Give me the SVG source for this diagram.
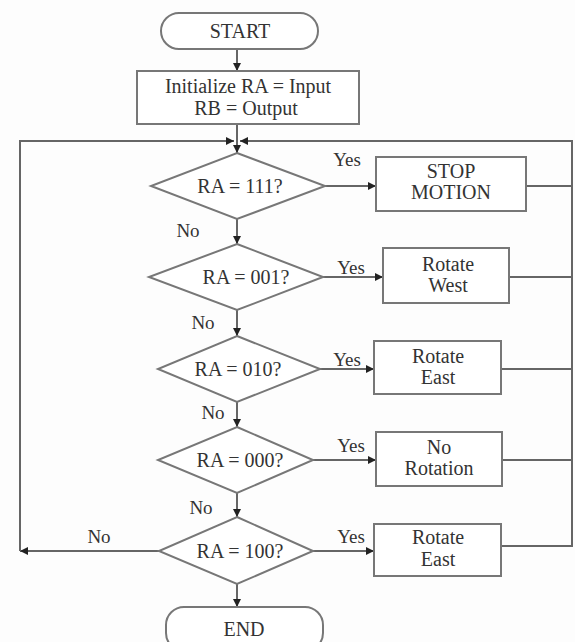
<svg xmlns="http://www.w3.org/2000/svg" width="575" height="642" viewBox="0 0 575 642">
<defs>
<marker id="ah" viewBox="0 0 10 10" refX="10" refY="5" markerWidth="8" markerHeight="8" markerUnits="userSpaceOnUse" orient="auto">
<path d="M0,0 L10,5 L0,10 z" fill="#222"/>
</marker>
</defs>
<style>
.shape{fill:#fff;stroke:#777;stroke-width:2}
.line{fill:none;stroke:#666;stroke-width:2}
.arr{marker-end:url(#ah)}
text{font-family:"Liberation Serif","Times New Roman",serif;font-size:20px;fill:#333;text-anchor:middle}
.lbl{font-size:19px}
</style>
<rect width="575" height="642" fill="#fdfdfd"/>
<g id="connectors">
<line class="line arr" x1="237" y1="49" x2="237" y2="71"/>
<line class="line arr" x1="237" y1="124" x2="237" y2="153"/>
<polyline class="line arr" points="159,551 20,551"/>
<polyline class="line arr" points="20,551 20,141 234,141"/>
<polyline class="line arr" points="526,186 572,186 572,141 240,141"/>
<line class="line" x1="509" y1="277" x2="572" y2="277"/>
<line class="line" x1="501" y1="369" x2="572" y2="369"/>
<line class="line" x1="502" y1="460" x2="572" y2="460"/>
<polyline class="line" points="501,546 572,546 572,186"/>
<line class="line arr" x1="325" y1="186" x2="376" y2="186"/>
<line class="line arr" x1="323" y1="277" x2="383" y2="277"/>
<line class="line arr" x1="320" y1="369" x2="374" y2="369"/>
<line class="line arr" x1="313" y1="460" x2="376" y2="460"/>
<line class="line arr" x1="313" y1="551" x2="374" y2="551"/>
<line class="line arr" x1="237" y1="219" x2="237" y2="244"/>
<line class="line arr" x1="237" y1="310" x2="237" y2="336"/>
<line class="line arr" x1="237" y1="402" x2="237" y2="427"/>
<line class="line arr" x1="237" y1="493" x2="237" y2="517"/>
<line class="line arr" x1="237" y1="584" x2="237" y2="607"/>
<text class="lbl" x="347" y="166">Yes</text>
<text class="lbl" x="351" y="274">Yes</text>
<text class="lbl" x="347" y="366">Yes</text>
<text class="lbl" x="351" y="452">Yes</text>
<text class="lbl" x="351" y="543">Yes</text>
<text class="lbl" x="188" y="237">No</text>
<text class="lbl" x="203" y="329">No</text>
<text class="lbl" x="213" y="419">No</text>
<text class="lbl" x="201" y="514">No</text>
<text class="lbl" x="99" y="543">No</text>
</g>
<g id="start">
<rect class="shape" x="161" y="13" width="157" height="36" rx="18"/>
<text x="240" y="38">START</text>
</g>
<g id="init">
<rect class="shape" x="137" y="71" width="222" height="53"/>
<text x="248" y="93">Initialize RA = Input</text>
<text x="246" y="115">RB = Output</text>
</g>
<g id="d1">
<polygon class="shape" points="237,153 325,186 237,219 151,186"/>
<text x="240" y="193">RA = 111?</text>
</g>
<g id="d2">
<polygon class="shape" points="237,244 323,277 237,310 149,277"/>
<text x="246" y="284">RA = 001?</text>
</g>
<g id="d3">
<polygon class="shape" points="237,336 320,369 237,402 158,369"/>
<text x="238" y="376">RA = 010?</text>
</g>
<g id="d4">
<polygon class="shape" points="237,427 313,460 237,493 158,460"/>
<text x="240" y="467">RA = 000?</text>
</g>
<g id="d5">
<polygon class="shape" points="237,517 313,551 237,584 159,551"/>
<text x="240" y="558">RA = 100?</text>
</g>
<g id="b1">
<rect class="shape" x="376" y="157" width="150" height="54"/>
<text x="451" y="178">STOP</text>
<text x="451" y="199">MOTION</text>
</g>
<g id="b2">
<rect class="shape" x="383" y="248" width="126" height="55"/>
<text x="448" y="271">Rotate</text>
<text x="448" y="292">West</text>
</g>
<g id="b3">
<rect class="shape" x="374" y="341" width="127" height="53"/>
<text x="438" y="363">Rotate</text>
<text x="438" y="384">East</text>
</g>
<g id="b4">
<rect class="shape" x="376" y="432" width="126" height="54"/>
<text x="439" y="454">No</text>
<text x="439" y="475">Rotation</text>
</g>
<g id="b5">
<rect class="shape" x="374" y="524" width="127" height="52"/>
<text x="438" y="544">Rotate</text>
<text x="438" y="566">East</text>
</g>
<g id="end">
<rect class="shape" x="166" y="607" width="157" height="44" rx="18"/>
<text x="244" y="636">END</text>
</g>
</svg>
